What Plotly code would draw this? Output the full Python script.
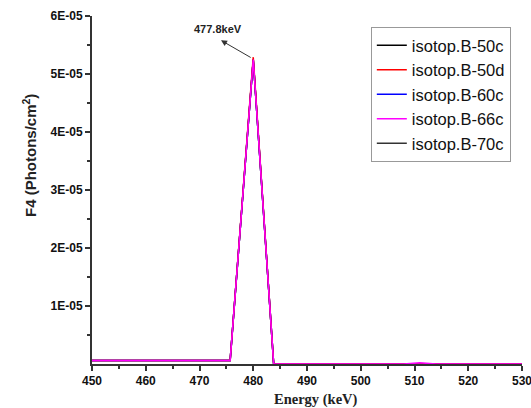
import plotly.graph_objects as go

energy = [450, 455, 460, 465, 470, 475.7, 480, 483.8, 490, 500, 508, 511, 514, 520, 530]
b50c = [6e-7, 6e-7, 6e-7, 6e-7, 6e-7, 6e-7, 5.25e-5, 0, 0, 0, 0, 1e-7, 0, 0, 0]
b50d = [6e-7, 6e-7, 6e-7, 6e-7, 6e-7, 6e-7, 5.29e-5, 0, 0, 0, 0, 1e-7, 0, 0, 0]
b60c = [6e-7, 6e-7, 6e-7, 6e-7, 6e-7, 6e-7, 5.25e-5, 0, 0, 0, 0, 1e-7, 0, 0, 0]
b66c = [6e-7, 6e-7, 6e-7, 6e-7, 6e-7, 6e-7, 5.25e-5, 0, 0, 0, 0, 2e-7, 0, 0, 0]
b70c = [6e-7, 6e-7, 6e-7, 6e-7, 6e-7, 6e-7, 5.25e-5, 0, 0, 0, 0, 1e-7, 0, 0, 0]

names = ["isotop.B-50c", "isotop.B-50d", "isotop.B-60c", "isotop.B-66c", "isotop.B-70c"]
series = [b50c, b50d, b60c, b66c, b70c]
colors = ["#000000", "#ff0000", "#0000ff", "#ff00ff", "#333333"]
draw_order = [0, 4, 2, 1, 3]

ytick_vals = [1e-5, 2e-5, 3e-5, 4e-5, 5e-5, 6e-5]
ytick_text = ["1E-05", "2E-05", "3E-05", "4E-05", "5E-05", "6E-05"]
xtick_vals = [450, 460, 470, 480, 490, 500, 510, 520, 530]
xtick_text = [str(v) for v in xtick_vals]

fig = go.Figure()
for i in draw_order:
    fig.add_trace(go.Scatter(
        x=energy, y=series[i], mode="lines", name=names[i],
        line=dict(color=colors[i], width=1.5), legendrank=i + 1,
    ))

fig.add_annotation(x=474.0, y=5.58e-5, ax=479.8, ay=5.27e-5, axref="x", ayref="y",
                   text="", showarrow=True, arrowhead=2, arrowsize=1.2,
                   arrowwidth=1, arrowcolor="#333333")
fig.add_annotation(x=473.4, y=5.77e-5, text="<b>477.8keV</b>", showarrow=False,
                   font=dict(family="Liberation Sans, Arial", size=11, color="#222"))

# axis titles
fig.add_annotation(xref="paper", yref="paper", x=-0.147, y=0.60, textangle=-90,
                   xanchor="center", yanchor="middle",
                   text="<b>F4 (Photons/cm<sup>2</sup>)</b>", showarrow=False,
                   font=dict(size=15, family="Liberation Sans, Arial", color="#222"))
fig.add_annotation(xref="paper", yref="paper", x=0.521, y=-0.103,
                   xanchor="center", yanchor="middle",
                   text="<b>Energy (keV)</b>", showarrow=False,
                   font=dict(family="Liberation Serif, Times New Roman", size=14.5, color="#222"))

tickfont = dict(size=12, family="Liberation Sans, Arial", color="#111", weight=700)

fig.update_layout(
    width=531, height=408,
    margin=dict(l=92, r=9, t=16, b=44),
    paper_bgcolor="white", plot_bgcolor="white",
    font=dict(family="Liberation Sans, Arial", color="#222"),
    legend=dict(x=0.974, y=0.968, xanchor="right", yanchor="top",
                bordercolor="#999999", borderwidth=1, bgcolor="white",
                font=dict(size=16.5, family="Liberation Sans, Arial", color="#111"),
                tracegroupgap=0, itemwidth=30),
    showlegend=True,
)
fig.update_xaxes(
    range=[450, 530], tickvals=xtick_vals, ticktext=["<b>%s</b>" % t for t in xtick_text],
    ticks="outside", ticklen=5, tickwidth=1.5, ticklabeloverflow="allow",
    tickcolor="#333", showline=True, linecolor="#333", linewidth=2, showgrid=False,
    zeroline=False, tickfont=tickfont, automargin=False,
    minor=dict(ticks="outside", ticklen=3, tickcolor="#333", dtick=5, tick0=450, showgrid=False),
)
fig.update_yaxes(
    range=[0, 6e-5], tickvals=ytick_vals, ticktext=["<b>%s</b>" % t for t in ytick_text],
    ticks="outside", ticklen=5, ticklabeloverflow="allow",
    tickwidth=1.5, tickcolor="#333", showline=True, linecolor="#333", linewidth=2,
    showgrid=False, zeroline=False, tickfont=tickfont, automargin=False,
    minor=dict(ticks="outside", ticklen=3, tickcolor="#333", tickvals=[5e-6, 1.5e-5, 2.5e-5, 3.5e-5, 4.5e-5, 5.5e-5], showgrid=False),
)

fig.write_html("out.html")
